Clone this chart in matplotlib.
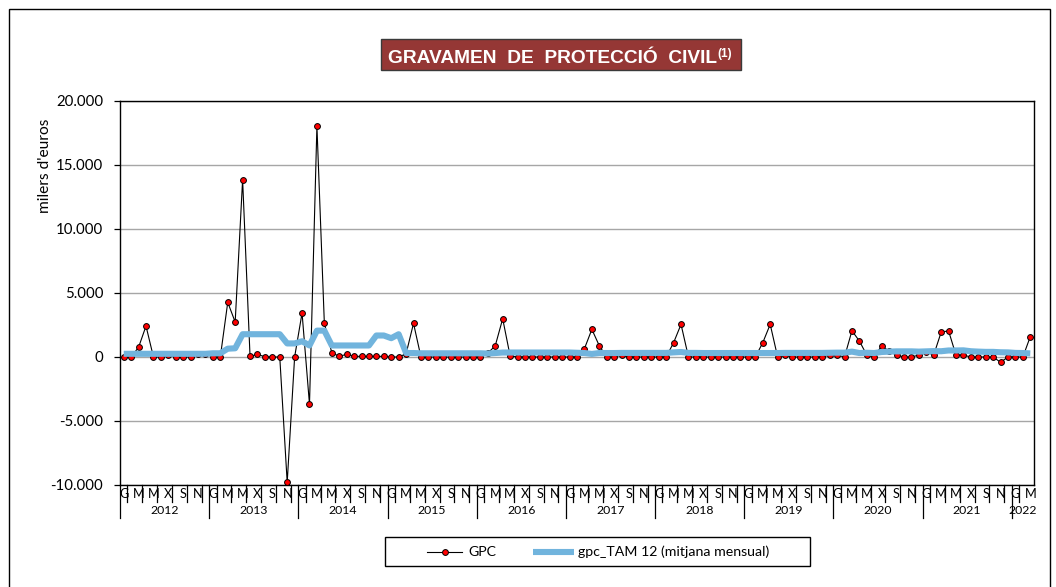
import numpy as np
import matplotlib
matplotlib.use('Agg')
import matplotlib.pyplot as plt
from matplotlib.patches import Rectangle
from matplotlib.lines import Line2D

# ---------------- data ----------------
years = ['2012', '2013', '2014', '2015', '2016', '2017', '2018', '2019', '2020', '2021', '2022']
month_letters = ['G', '', 'M', '', 'M', '', 'X', '', 'S', '', 'N', '']

gpc = [
    0, 0, 760, 2420, 0, 0, 150, 0, 0, 0, 250, 250,                 # 2012
    0, 0, 4270, 2730, 13850, 50, 200, 20, 0, 0, -9800, 0,          # 2013
    3440, -3700, 18050, 2630, 340, 50, 210, 50, 50, 50, 50, 50,    # 2014
    0, 0, 250, 2630, 0, 0, 0, 0, 0, 0, 0, 0,                       # 2015
    0, 300, 880, 2990, 80, 0, 0, 0, 0, 0, 0, 0,                    # 2016
    0, 0, 650, 2160, 880, 0, 0, 150, 0, 0, 0, 0,                   # 2017
    0, 0, 1120, 2550, 0, 0, 0, 0, 0, 0, 0, 0,                      # 2018
    0, 0, 1120, 2550, 0, 150, 0, 0, 0, 0, 0, 150,                  # 2019
    150, 0, 2050, 1250, 150, 0, 880, 450, 150, 0, 0, 150,          # 2020
    400, 150, 1930, 2050, 150, 150, 0, 0, 0, 0, -410, 0,           # 2021
    0, 0, 1590,                                                    # 2022
]

tam = [
    250, 250, 250, 250, 250, 250, 250, 250, 250, 250, 250, 250,    # 2012
    290, 290, 650, 680, 1780, 1780, 1780, 1780, 1780, 1780, 1060, 1060,  # 2013
    1230, 900, 2060, 2060, 900, 900, 900, 900, 900, 900, 1680, 1680,     # 2014
    1470, 1780, 310, 310, 290, 290, 290, 290, 290, 290, 290, 290,  # 2015
    290, 270, 310, 350, 350, 350, 350, 350, 350, 350, 350, 350,    # 2016
    350, 330, 310, 240, 310, 310, 310, 320, 320, 320, 320, 320,    # 2017
    320, 320, 360, 390, 320, 320, 310, 310, 310, 310, 310, 310,    # 2018
    310, 310, 310, 310, 310, 320, 320, 320, 320, 320, 320, 330,    # 2019
    340, 340, 420, 310, 330, 310, 390, 420, 440, 440, 440, 420,    # 2020
    440, 460, 450, 510, 510, 520, 450, 420, 400, 400, 370, 360,    # 2021
    320, 310, 280,                                                 # 2022
]

yticks = [-10000, -5000, 0, 5000, 10000, 15000, 20000]
ytick_labels = ['-10.000', '-5.000', '0', '5.000', '10.000', '15.000', '20.000']

title = 'GRAVAMEN  DE  PROTECCIÓ  CIVIL'
title_sup = '(1)'
ylabel = "milers d'euros"
legend_labels = ['GPC', 'gpc_TAM 12 (mitjana mensual)']

# ---------------- style ----------------
W, H = 1056, 587
BLUE = '#71B4DD'
plt.rcParams['font.family'] = ['Lato', 'DejaVu Sans']


def fx(px):
    return px / W


def fy(py):
    return 1 - py / H


fig = plt.figure(figsize=(W / 100, H / 100), dpi=100)
fig.patch.set_facecolor('white')

# outer border
fig.add_artist(Rectangle((fx(8.5), fy(620)), fx(1049.5) - fx(8.5), (620 - 8.5) / H,
                         transform=fig.transFigure, fill=False, edgecolor='black', lw=1.0))

L, R, T, B = 120, 1034, 101, 485
ax = fig.add_axes([fx(L), fy(B), fx(R) - fx(L), fy(T) - fy(B)])

n = len(gpc)
x = np.arange(n) + 0.5
ax.plot(x, gpc, color='black', lw=0.8, marker='o', ms=4.2, mfc='#FF0000', mec='black',
        mew=0.7, zorder=3)
ax.plot(x, tam, color=BLUE, lw=4.4, zorder=4, solid_joinstyle='round', solid_capstyle='butt')

ax.set_xlim(0, n)
ax.set_ylim(-10000, 20000)
ax.set_yticks(yticks)
ax.set_yticklabels(ytick_labels)
ax.tick_params(axis='y', length=4, width=0.9, pad=8, labelsize=10.8, direction='out')
ax.set_xticks([])
ax.set_axisbelow(True)
ax.yaxis.grid(True, color='#A6A6A6', lw=1.0)
for s in ax.spines.values():
    s.set_color('black')
    s.set_linewidth(1.0)

# category axis: ticks, month letters, years
trans = ax.get_xaxis_transform()
ph = B - T
for j in range(n):
    if j % 12 == 0:
        ax.plot([j, j], [0, -33 / ph], transform=trans, clip_on=False, color='black', lw=0.9)
    elif j % 2 == 1:
        ax.plot([j, j], [0, -17 / ph], transform=trans, clip_on=False, color='black', lw=0.9)
for i in range(n):
    letter = month_letters[i % 12]
    if letter:
        ax.text(i + 0.5, -2.5 / ph, letter, transform=trans, ha='center', va='top',
                fontsize=9.2, clip_on=False)
for k, yr in enumerate(years):
    s0 = k * 12
    s1 = min(s0 + 12, n)
    ax.text((s0 + s1) / 2, -(511 - B) / ph, yr, transform=trans, ha='center', va='center',
            fontsize=8.8, clip_on=False)

# y label
fig.text(fx(45), fy(166), ylabel, rotation=90, ha='center', va='center', fontsize=11.2)

# title box
fig.add_artist(Rectangle((fx(381), fy(70)), fx(741) - fx(381), (70 - 39) / H,
                         transform=fig.transFigure, facecolor='#953735', edgecolor='#3A3A3A',
                         lw=1.0))
t = fig.text(fx(388), fy(63.3), title, color='white', fontsize=13.8, fontweight='bold',
             family='Liberation Sans', ha='left', va='baseline')
fig.canvas.draw()
bb = t.get_window_extent(renderer=fig.canvas.get_renderer())
fig.text(bb.x1 / W + fx(0.5), fy(57), title_sup, color='white', fontsize=8.5,
         fontweight='bold', family='Liberation Sans', ha='left', va='baseline')

# legend (manual)
fig.add_artist(Rectangle((fx(384.5), fy(565.5)), fx(809.5) - fx(384.5), (565.5 - 536.5) / H,
                         transform=fig.transFigure, fill=False, edgecolor='black', lw=1.0))
ly = fy(552)
fig.add_artist(Line2D([fx(427), fx(462)], [ly, ly], transform=fig.transFigure,
                      color='black', lw=0.8))
fig.add_artist(Line2D([fx(444.5)], [ly], transform=fig.transFigure, color='black',
                      marker='o', ms=4.2, mfc='#FF0000', mec='black', mew=0.7, lw=0))
fig.text(fx(468), ly, legend_labels[0], ha='left', va='center', fontsize=10.2)
fig.add_artist(Line2D([fx(533), fx(574)], [ly, ly], transform=fig.transFigure,
                      color=BLUE, lw=4.4, solid_capstyle='butt'))
fig.text(fx(578), ly, legend_labels[1], ha='left', va='center', fontsize=10.2)

fig.savefig('out.png', dpi=100)
